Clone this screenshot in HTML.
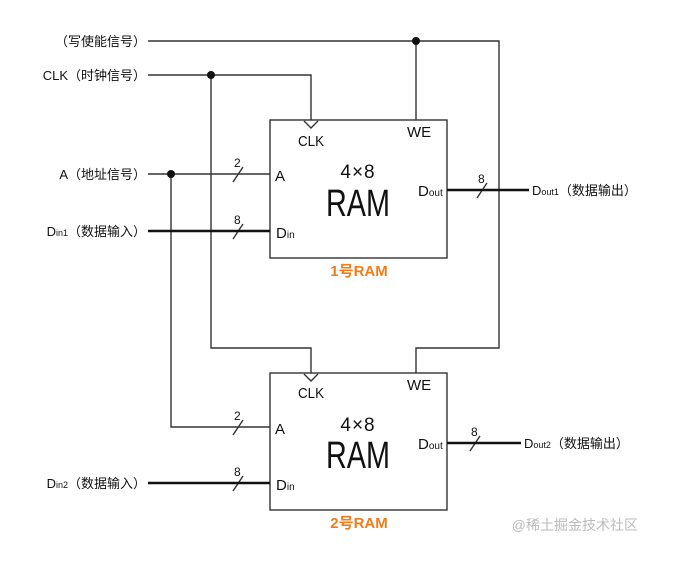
<!DOCTYPE html>
<html><head><meta charset="utf-8"><style>
html,body{margin:0;padding:0;background:#fff;}
svg{display:block;}
text{font-family:"Liberation Sans","Noto Sans CJK SC",sans-serif;fill:#111;}
</style></head><body>
<svg width="686" height="576" viewBox="0 0 686 576" xmlns="http://www.w3.org/2000/svg">
<g stroke="#333" stroke-width="1.4" fill="none">
<polyline points="148,41 499,41 499,348 416,348 416,373"/>
<line x1="416" y1="41" x2="416" y2="120"/>
<polyline points="148,75 311,75 311,120"/>
<polyline points="211,75 211,348 311,348 311,373"/>
<line x1="148" y1="174" x2="270" y2="174"/>
<polyline points="171,174 171,427 270,427"/>
<rect x="270" y="120" width="177" height="138"/>
<rect x="270" y="373" width="177" height="137"/>
<polyline points="304,121 311,128 318,121"/>
<polyline points="304,374 311,381 318,374"/>
<line x1="233" y1="182" x2="243" y2="167"/>
<line x1="233" y1="239" x2="243" y2="224"/>
<line x1="233" y1="435" x2="243" y2="420"/>
<line x1="233" y1="491" x2="243" y2="476"/>
<line x1="477" y1="198" x2="487" y2="183"/>
<line x1="470" y1="451" x2="480" y2="436"/>
</g>
<g stroke="#111" stroke-width="2.6">
<line x1="148" y1="231" x2="270" y2="231"/>
<line x1="148" y1="483" x2="270" y2="483"/>
<line x1="447" y1="190" x2="529" y2="190"/>
<line x1="447" y1="443" x2="521" y2="443"/>
</g>
<g fill="#111">
<circle cx="416" cy="41" r="4"/>
<circle cx="211" cy="75" r="4"/>
<circle cx="171" cy="174" r="4"/>
</g>
<g font-size="13">
<text x="146" y="46" text-anchor="end">（写使能信号）</text>
<text x="146" y="80" text-anchor="end">CLK（时钟信号）</text>
<text x="146" y="179" text-anchor="end">A（地址信号）</text>
<text x="146" y="236" text-anchor="end">D<tspan font-size="9">in1</tspan>（数据输入）</text>
<text x="146" y="488" text-anchor="end">D<tspan font-size="9">in2</tspan>（数据输入）</text>
<text x="532" y="195">D<tspan font-size="9">out1</tspan>（数据输出）</text>
<text x="524" y="448">D<tspan font-size="9">out2</tspan>（数据输出）</text>
<text x="234" y="167" font-size="12">2</text>
<text x="234" y="224" font-size="12">8</text>
<text x="234" y="420" font-size="12">2</text>
<text x="234" y="476" font-size="12">8</text>
<text x="478" y="183" font-size="12">8</text>
<text x="471" y="436" font-size="12">8</text>
</g>
<g font-size="15">
<text x="298" y="146" textLength="26" lengthAdjust="spacingAndGlyphs">CLK</text>
<text x="407" y="137">WE</text>
<text x="275" y="181">A</text>
<text x="276" y="238">D<tspan font-size="10">in</tspan></text>
<text x="418" y="196">D<tspan font-size="10">out</tspan></text>
<text x="298" y="398" textLength="26" lengthAdjust="spacingAndGlyphs">CLK</text>
<text x="407" y="390">WE</text>
<text x="275" y="434">A</text>
<text x="276" y="490">D<tspan font-size="10">in</tspan></text>
<text x="418" y="449">D<tspan font-size="10">out</tspan></text>
</g>
<text x="358" y="178" font-size="19" text-anchor="middle" letter-spacing="1">4×8</text>
<text x="326" y="216" font-size="38" textLength="64" lengthAdjust="spacingAndGlyphs">RAM</text>
<text x="358" y="431" font-size="19" text-anchor="middle" letter-spacing="1">4×8</text>
<text x="326" y="468" font-size="38" textLength="64" lengthAdjust="spacingAndGlyphs">RAM</text>
<text x="359" y="276" font-size="15" font-weight="bold" text-anchor="middle" style="fill:#f07d1a">1号RAM</text>
<text x="359" y="528" font-size="15" font-weight="bold" text-anchor="middle" style="fill:#f07d1a">2号RAM</text>
<text x="638" y="530" font-size="14" text-anchor="end" style="fill:#bbb">@稀土掘金技术社区</text>
</svg>
</body></html>
